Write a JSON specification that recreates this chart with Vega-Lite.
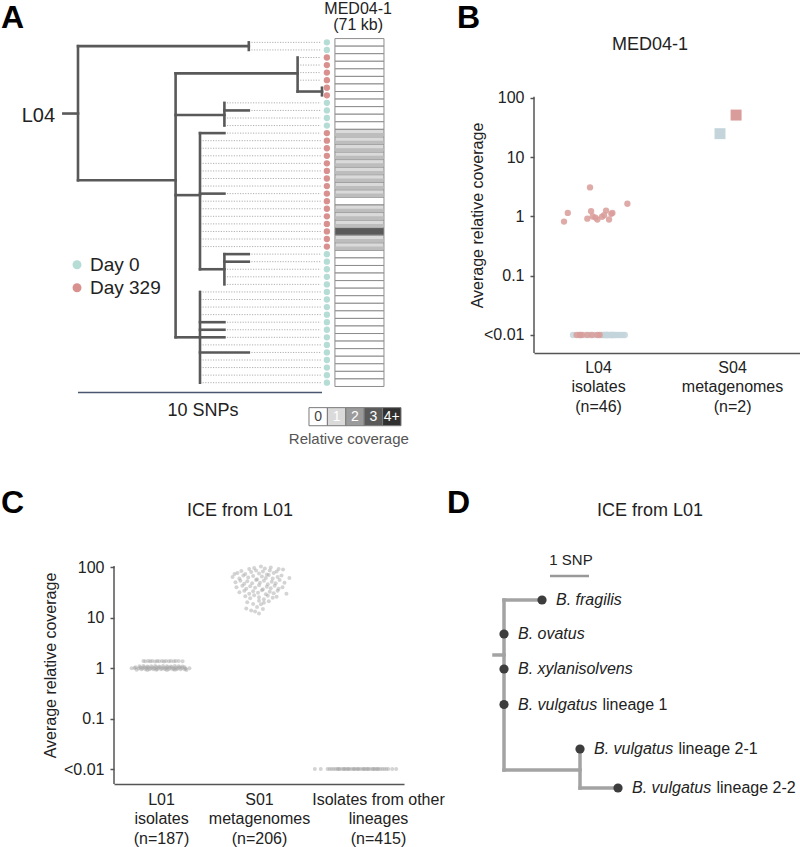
{
"$schema": "https://vega.github.io/schema/vega-lite/v6.json",
"padding": 0,
"background": "white",
"config": {
  "font": "Liberation Sans",
  "view": {"stroke": null},
  "axis": {"domainColor": "#555555", "domainWidth": 1.5, "tickColor": "#555555", "tickWidth": 1.5, "tickSize": 4, "labelColor": "#222222", "titleColor": "#222222", "labelFontSize": 16, "titleFontSize": 16, "titleFontWeight": "normal", "grid": false, "labelFont": "Liberation Sans", "titleFont": "Liberation Sans", "labelFlush": false, "labelOverlap": false},
  "text": {"font": "Liberation Sans", "color": "#222222"}
},
"datasets": {
  "aTree": [
    {"x":-0.6,"x2":0,"y":9.41,"y2":9.41},
    {"x":0,"x2":0,"y":0.5,"y2":18.24},
    {"x":0,"x2":7,"y":0.5,"y2":0.5},
    {"x":7,"x2":7,"y":0,"y2":1},
    {"x":0,"x2":4,"y":18.24,"y2":18.24},
    {"x":4,"x2":4,"y":4.1,"y2":39},
    {"x":4,"x2":9,"y":4.1,"y2":4.1},
    {"x":9,"x2":9,"y":2,"y2":6.5},
    {"x":9,"x2":10,"y":6.5,"y2":6.5},
    {"x":10,"x2":10,"y":6,"y2":7},
    {"x":4,"x2":6,"y":9.6,"y2":9.6},
    {"x":6,"x2":6,"y":8,"y2":11},
    {"x":6,"x2":7,"y":9,"y2":9},
    {"x":4,"x2":5,"y":20.2,"y2":20.2},
    {"x":5,"x2":5,"y":12,"y2":30},
    {"x":5,"x2":6,"y":12,"y2":12},
    {"x":5,"x2":6,"y":20,"y2":20},
    {"x":5,"x2":6,"y":30,"y2":30},
    {"x":6,"x2":6,"y":28,"y2":32},
    {"x":6,"x2":7,"y":28,"y2":28},
    {"x":6,"x2":7,"y":29,"y2":29},
    {"x":4,"x2":5,"y":39,"y2":39},
    {"x":5,"x2":5,"y":33,"y2":45},
    {"x":5,"x2":6,"y":37,"y2":37},
    {"x":5,"x2":6,"y":38,"y2":38},
    {"x":5,"x2":6,"y":39,"y2":39},
    {"x":5,"x2":7,"y":41,"y2":41}
  ],
  "aTips": [
    {"y":0,"x":7,"d":"0","c":0,"y0":-0.5,"y1":0.5},
    {"y":1,"x":7,"d":"0","c":0,"y0":0.5,"y1":1.5},
    {"y":2,"x":9,"d":"329","c":0,"y0":1.5,"y1":2.5},
    {"y":3,"x":9,"d":"329","c":0,"y0":2.5,"y1":3.5},
    {"y":4,"x":9,"d":"329","c":0,"y0":3.5,"y1":4.5},
    {"y":5,"x":9,"d":"329","c":0,"y0":4.5,"y1":5.5},
    {"y":6,"x":10,"d":"329","c":0,"y0":5.5,"y1":6.5},
    {"y":7,"x":10,"d":"329","c":0,"y0":6.5,"y1":7.5},
    {"y":8,"x":6,"d":"0","c":0,"y0":7.5,"y1":8.5},
    {"y":9,"x":7,"d":"0","c":0,"y0":8.5,"y1":9.5},
    {"y":10,"x":6,"d":"0","c":0,"y0":9.5,"y1":10.5},
    {"y":11,"x":6,"d":"0","c":0,"y0":10.5,"y1":11.5},
    {"y":12,"x":6,"d":"329","c":1,"y0":11.5,"y1":12.5},
    {"y":13,"x":5,"d":"329","c":1,"y0":12.5,"y1":13.5},
    {"y":14,"x":5,"d":"329","c":1,"y0":13.5,"y1":14.5},
    {"y":15,"x":5,"d":"329","c":1,"y0":14.5,"y1":15.5},
    {"y":16,"x":5,"d":"329","c":1,"y0":15.5,"y1":16.5},
    {"y":17,"x":5,"d":"329","c":1,"y0":16.5,"y1":17.5},
    {"y":18,"x":5,"d":"329","c":1,"y0":17.5,"y1":18.5},
    {"y":19,"x":5,"d":"329","c":1,"y0":18.5,"y1":19.5},
    {"y":20,"x":6,"d":"329","c":1,"y0":19.5,"y1":20.5},
    {"y":21,"x":5,"d":"329","c":0,"y0":20.5,"y1":21.5},
    {"y":22,"x":5,"d":"329","c":1,"y0":21.5,"y1":22.5},
    {"y":23,"x":5,"d":"329","c":1,"y0":22.5,"y1":23.5},
    {"y":24,"x":5,"d":"329","c":1,"y0":23.5,"y1":24.5},
    {"y":25,"x":5,"d":"329","c":3,"y0":24.5,"y1":25.5},
    {"y":26,"x":5,"d":"329","c":1,"y0":25.5,"y1":26.5},
    {"y":27,"x":5,"d":"329","c":1,"y0":26.5,"y1":27.5},
    {"y":28,"x":7,"d":"0","c":0,"y0":27.5,"y1":28.5},
    {"y":29,"x":7,"d":"0","c":0,"y0":28.5,"y1":29.5},
    {"y":30,"x":6,"d":"0","c":0,"y0":29.5,"y1":30.5},
    {"y":31,"x":6,"d":"0","c":0,"y0":30.5,"y1":31.5},
    {"y":32,"x":6,"d":"0","c":0,"y0":31.5,"y1":32.5},
    {"y":33,"x":5,"d":"0","c":0,"y0":32.5,"y1":33.5},
    {"y":34,"x":5,"d":"0","c":0,"y0":33.5,"y1":34.5},
    {"y":35,"x":5,"d":"0","c":0,"y0":34.5,"y1":35.5},
    {"y":36,"x":5,"d":"0","c":0,"y0":35.5,"y1":36.5},
    {"y":37,"x":6,"d":"0","c":0,"y0":36.5,"y1":37.5},
    {"y":38,"x":6,"d":"0","c":0,"y0":37.5,"y1":38.5},
    {"y":39,"x":6,"d":"0","c":0,"y0":38.5,"y1":39.5},
    {"y":40,"x":5,"d":"0","c":0,"y0":39.5,"y1":40.5},
    {"y":41,"x":7,"d":"0","c":0,"y0":40.5,"y1":41.5},
    {"y":42,"x":5,"d":"0","c":0,"y0":41.5,"y1":42.5},
    {"y":43,"x":5,"d":"0","c":0,"y0":42.5,"y1":43.5},
    {"y":44,"x":5,"d":"0","c":0,"y0":43.5,"y1":44.5},
    {"y":45,"x":5,"d":"0","c":0,"y0":44.5,"y1":45.5}
  ],
  "bPts": [
    {"x":-0.187,"v":0.01,"d":"0"},{"x":-0.14,"v":0.01,"d":"0"},{"x":-0.1,"v":0.01,"d":"0"},{"x":-0.06,"v":0.01,"d":"0"},
    {"x":-0.025,"v":0.01,"d":"0"},{"x":0.025,"v":0.01,"d":"0"},{"x":0.035,"v":0.01,"d":"0"},{"x":0.045,"v":0.01,"d":"0"},
    {"x":0.05,"v":0.01,"d":"0"},{"x":0.06,"v":0.01,"d":"0"},{"x":0.065,"v":0.01,"d":"0"},{"x":0.07,"v":0.01,"d":"0"},
    {"x":0.08,"v":0.01,"d":"0"},{"x":0.09,"v":0.01,"d":"0"},{"x":0.1,"v":0.01,"d":"0"},{"x":0.105,"v":0.01,"d":"0"},
    {"x":0.11,"v":0.01,"d":"0"},{"x":0.12,"v":0.01,"d":"0"},{"x":0.13,"v":0.01,"d":"0"},{"x":0.14,"v":0.01,"d":"0"},
    {"x":0.155,"v":0.01,"d":"0"},{"x":0.17,"v":0.01,"d":"0"},{"x":0.185,"v":0.01,"d":"0"},{"x":0.2,"v":0.01,"d":"0"},
    {"x":-0.16,"v":0.01,"d":"329"},{"x":-0.12,"v":0.01,"d":"329"},{"x":-0.08,"v":0.01,"d":"329"},{"x":-0.045,"v":0.01,"d":"329"},
    {"x":-0.005,"v":0.01,"d":"329"},{"x":0.012,"v":0.01,"d":"329"},{"x":-0.135,"v":0.01,"d":"329"},
    {"x":-0.254,"v":0.82,"d":"329"},{"x":-0.226,"v":1.15,"d":"329"},{"x":-0.08,"v":0.92,"d":"329"},{"x":-0.06,"v":3.1,"d":"329"},
    {"x":-0.052,"v":1.23,"d":"329"},{"x":-0.04,"v":1.0,"d":"329"},{"x":-0.005,"v":0.89,"d":"329"},{"x":0.03,"v":0.99,"d":"329"},
    {"x":0.06,"v":1.26,"d":"329"},{"x":0.082,"v":0.89,"d":"329"},{"x":0.099,"v":1.11,"d":"329"},{"x":0.107,"v":1.15,"d":"329"},
    {"x":0.219,"v":1.64,"d":"329"},{"x":-0.02,"v":0.96,"d":"329"},{"x":0.045,"v":1.05,"d":"329"}
  ],
  "cPts": [
    {"x":-0.18,"v":1.37},{"x":-0.16,"v":1.36},{"x":-0.13,"v":1.38},{"x":-0.11,"v":1.36},{"x":-0.09,"v":1.37},{"x":-0.06,"v":1.35},
    {"x":-0.04,"v":1.38},{"x":-0.02,"v":1.36},{"x":0.01,"v":1.37},{"x":0.03,"v":1.35},{"x":0.05,"v":1.38},{"x":0.08,"v":1.36},
    {"x":0.1,"v":1.37},{"x":0.13,"v":1.36},{"x":0.15,"v":1.38},{"x":0.18,"v":1.37},{"x":0.22,"v":1.36},
    {"x":-0.22,"v":1.08},{"x":-0.18,"v":1.09},{"x":-0.14,"v":1.07},{"x":-0.1,"v":1.08},{"x":-0.06,"v":1.1},{"x":-0.02,"v":1.07},
    {"x":0.02,"v":1.09},{"x":0.06,"v":1.08},{"x":0.1,"v":1.07},{"x":0.14,"v":1.09},{"x":0.18,"v":1.08},{"x":0.22,"v":1.07},
    {"x":-0.26,"v":1.03},{"x":-0.21,"v":1.02},{"x":-0.17,"v":1.04},{"x":-0.13,"v":1.03},{"x":-0.09,"v":1.02},{"x":-0.05,"v":1.04},
    {"x":-0.01,"v":1.03},{"x":0.03,"v":1.02},{"x":0.07,"v":1.04},{"x":0.11,"v":1.03},{"x":0.15,"v":1.02},{"x":0.19,"v":1.04},{"x":0.24,"v":1.03},
    {"x":-0.3,"v":0.99},{"x":-0.27,"v":1.0},{"x":-0.23,"v":0.98},{"x":-0.19,"v":0.99},{"x":-0.15,"v":1.0},{"x":-0.11,"v":0.98},
    {"x":-0.07,"v":0.99},{"x":-0.03,"v":1.0},{"x":0.01,"v":0.98},{"x":0.05,"v":0.99},{"x":0.09,"v":1.0},{"x":0.13,"v":0.98},
    {"x":0.17,"v":0.99},{"x":0.21,"v":1.0},{"x":0.25,"v":0.98},{"x":0.29,"v":0.99},
    {"x":-0.2,"v":0.95},{"x":-0.16,"v":0.94},{"x":-0.12,"v":0.95},{"x":-0.08,"v":0.94},{"x":-0.04,"v":0.95},{"x":0.0,"v":0.94},
    {"x":0.04,"v":0.95},{"x":0.08,"v":0.94},{"x":0.12,"v":0.95},{"x":0.16,"v":0.94},{"x":0.2,"v":0.95},{"x":0.24,"v":0.94},
    {"x":-0.25,"v":0.92},{"x":-0.14,"v":0.91},{"x":-0.05,"v":0.92},{"x":0.06,"v":0.91},{"x":0.14,"v":0.92},{"x":0.26,"v":0.91},
    {"x":0.95,"v":95.5},{"x":1.02,"v":102.3},{"x":1.06,"v":93.3},{"x":1.12,"v":97.7},{"x":1.2,"v":91.2},{"x":0.9,"v":91.2},{"x":1.245,"v":89.1},
    {"x":0.78,"v":75.9},{"x":0.82,"v":83.2},{"x":0.86,"v":72.4},{"x":0.92,"v":79.4},{"x":0.97,"v":85.1},{"x":1.0,"v":74.1},
    {"x":1.04,"v":81.3},{"x":1.08,"v":70.8},{"x":1.11,"v":85.1},{"x":1.15,"v":75.9},{"x":1.18,"v":81.3},{"x":0.75,"v":72.4},
    {"x":0.73,"v":63.1},{"x":0.8,"v":58.9},{"x":0.84,"v":67.6},{"x":0.89,"v":61.7},{"x":0.94,"v":66.1},{"x":0.98,"v":57.5},
    {"x":1.03,"v":64.6},{"x":1.07,"v":60.3},{"x":1.1,"v":69.2},{"x":1.14,"v":58.9},{"x":1.19,"v":63.1},{"x":1.23,"v":67.6},{"x":1.31,"v":60.3},
    {"x":0.76,"v":50.1},{"x":0.81,"v":53.7},{"x":0.85,"v":46.8},{"x":0.88,"v":52.5},{"x":0.93,"v":47.9},{"x":0.97,"v":55.0},
    {"x":1.01,"v":49.0},{"x":1.05,"v":53.7},{"x":1.09,"v":45.7},{"x":1.13,"v":51.3},{"x":1.17,"v":47.9},{"x":1.21,"v":55.0},{"x":1.26,"v":49.0},
    {"x":0.77,"v":39.8},{"x":0.83,"v":42.7},{"x":0.87,"v":37.2},{"x":0.91,"v":41.7},{"x":0.96,"v":38.9},{"x":1.0,"v":43.7},
    {"x":1.04,"v":36.3},{"x":1.08,"v":40.7},{"x":1.12,"v":38.0},{"x":1.16,"v":42.7},{"x":1.2,"v":37.2},{"x":1.24,"v":39.8},
    {"x":0.8,"v":31.6},{"x":0.85,"v":33.9},{"x":0.9,"v":29.5},{"x":0.94,"v":33.1},{"x":0.99,"v":30.9},{"x":1.03,"v":34.7},
    {"x":1.07,"v":28.8},{"x":1.11,"v":32.4},{"x":1.15,"v":30.2},{"x":1.19,"v":33.9},{"x":1.28,"v":29.5},
    {"x":0.86,"v":26.3},{"x":0.91,"v":24.0},{"x":0.95,"v":27.5},{"x":1.0,"v":25.1},{"x":1.05,"v":22.9},{"x":1.09,"v":26.9},{"x":1.14,"v":24.5},{"x":1.18,"v":25.7},
    {"x":0.88,"v":20.0},{"x":0.94,"v":18.6},{"x":1.0,"v":21.4},{"x":1.05,"v":19.5},{"x":1.1,"v":20.9},{"x":1.02,"v":18.2},
    {"x":0.87,"v":15.1},{"x":0.92,"v":13.8},{"x":0.98,"v":16.2},{"x":1.04,"v":14.8},{"x":1.0,"v":12.0},{"x":0.96,"v":13.2},
    {"x":1.57,"v":0.01},{"x":1.63,"v":0.01},{"x":1.7,"v":0.01},{"x":1.72,"v":0.01},{"x":1.74,"v":0.01},{"x":1.76,"v":0.01},
    {"x":1.78,"v":0.01},{"x":1.8,"v":0.01},{"x":1.82,"v":0.01},{"x":1.84,"v":0.01},{"x":1.86,"v":0.01},{"x":1.88,"v":0.01},
    {"x":1.9,"v":0.01},{"x":1.92,"v":0.01},{"x":1.94,"v":0.01},{"x":1.96,"v":0.01},{"x":1.98,"v":0.01},{"x":2.0,"v":0.01},
    {"x":2.02,"v":0.01},{"x":2.04,"v":0.01},{"x":2.06,"v":0.01},{"x":2.08,"v":0.01},{"x":2.1,"v":0.01},{"x":2.12,"v":0.01},
    {"x":2.14,"v":0.01},{"x":2.16,"v":0.01},{"x":2.18,"v":0.01},{"x":2.2,"v":0.01},{"x":2.22,"v":0.01},{"x":2.24,"v":0.01},
    {"x":2.26,"v":0.01},{"x":2.28,"v":0.01},{"x":2.3,"v":0.01},{"x":2.32,"v":0.01},{"x":2.36,"v":0.01},{"x":2.4,"v":0.01},
    {"x":1.81,"v":0.01},{"x":1.87,"v":0.01},{"x":1.91,"v":0.01},{"x":1.97,"v":0.01},{"x":2.01,"v":0.01},{"x":2.07,"v":0.01},
    {"x":2.11,"v":0.01},{"x":2.17,"v":0.01},{"x":2.21,"v":0.01}
  ],
  "dTree": [
    {"x":0,"x2":0,"y":0,"y2":4.857},
    {"x":0,"x2":1,"y":0,"y2":0},
    {"x":-0.263,"x2":0,"y":1.571,"y2":1.571},
    {"x":0,"x2":2,"y":4.857,"y2":4.857},
    {"x":2,"x2":2,"y":4.257,"y2":5.371},
    {"x":2,"x2":3,"y":5.371,"y2":5.371}
  ],
  "dTips": [
    {"x":1,"y":0,"it":"B. fragilis","n":""},
    {"x":0,"y":0.971,"it":"B. ovatus","n":""},
    {"x":0,"y":1.971,"it":"B. xylanisolvens","n":""},
    {"x":0,"y":2.986,"it":"B. vulgatus","n":"lineage 1"},
    {"x":2,"y":4.257,"it":"B. vulgatus","n":"lineage 2-1"},
    {"x":3,"y":5.371,"it":"B. vulgatus","n":"lineage 2-2"}
  ]
},
"spacing": 0,
"vconcat": [
  {
    "bounds": "flush",
    "spacing": 114,
    "hconcat": [
      {
        "width": 420,
        "height": 450,
        "encoding": {
          "x": {"field": "x", "type": "quantitative", "scale": {"domain": [-3.1967, 14.0164], "nice": false, "zero": false}, "axis": null},
          "y": {"field": "y", "type": "quantitative", "scale": {"domain": [-5.6026, 53.9], "nice": false, "zero": false, "reverse": true}, "axis": null}
        },
        "layer": [
          {
            "data": {"name": "aTips"},
            "mark": {"type": "rect", "stroke": "#8c8c8c", "strokeWidth": 1},
            "encoding": {
              "x": {"datum": 10.53, "type": "quantitative", "scale": {"domain": [-3.1967, 14.0164], "nice": false, "zero": false}, "axis": null},
              "x2": {"datum": 12.54},
              "y": {"field": "y0", "type": "quantitative", "scale": {"domain": [-5.6026, 53.9], "nice": false, "zero": false, "reverse": true}, "axis": null},
              "y2": {"field": "y1"},
              "fill": {"field": "c", "type": "ordinal", "scale": {"domain": [0, 1, 2, 3, 4], "range": ["#ffffff", "#dadada", "#9b9b9b", "#5a5a5a", "#303030"]}, "legend": null}
            }
          },
          {
            "data": {"name": "aTips"},
            "transform": [{"filter": "datum.c == 1"}],
            "mark": {"type": "rect", "color": "#bdbdbd"},
            "encoding": {
              "x": {"datum": 10.55, "type": "quantitative", "scale": {"domain": [-3.1967, 14.0164], "nice": false, "zero": false}, "axis": null},
              "x2": {"datum": 12.52},
              "y2": {"field": "y1"}
            }
          },
          {
            "data": {"name": "aTips"},
            "mark": {"type": "rule", "color": "#b0b0b0", "strokeWidth": 1, "strokeDash": [1.2, 1.4]},
            "encoding": {"x2": {"datum": 9.95}}
          },
          {
            "data": {"name": "aTree"},
            "mark": {"type": "rule", "color": "#595959", "strokeWidth": 2.6, "strokeCap": "square"},
            "encoding": {"x2": {"field": "x2"}, "y2": {"field": "y2"}}
          },
          {
            "data": {"name": "aTips"},
            "transform": [{"filter": "datum.d == '0'"}],
            "mark": {"type": "circle", "size": 40, "color": "#b5dcd5", "opacity": 1},
            "encoding": {"x": {"datum": 10.2, "type": "quantitative", "scale": {"domain": [-3.1967, 14.0164], "nice": false, "zero": false}, "axis": null}}
          },
          {
            "data": {"name": "aTips"},
            "transform": [{"filter": "datum.d == '329'"}],
            "mark": {"type": "circle", "size": 40, "color": "#d8918e", "opacity": 1},
            "encoding": {"x": {"datum": 10.2, "type": "quantitative", "scale": {"domain": [-3.1967, 14.0164], "nice": false, "zero": false}, "axis": null}}
          },
          {
            "data": {"values": [{"x": -0.04, "y": 29.4}]},
            "mark": {"type": "circle", "size": 80, "color": "#b5dcd5", "opacity": 1}
          },
          {
            "data": {"values": [{"x": -0.04, "y": 32.45}]},
            "mark": {"type": "circle", "size": 80, "color": "#d8918e", "opacity": 1}
          },
          {
            "data": {"values": [{"x": 0.49, "y": 29.4, "t": "Day 0"}, {"x": 0.49, "y": 32.45, "t": "Day 329"}]},
            "mark": {"type": "text", "fontSize": 19, "align": "left", "baseline": "middle", "color": "#222222"},
            "encoding": {"text": {"field": "t"}}
          },
          {
            "data": {"values": [{"x": -3.156, "y": -1.95, "t": "A"}]},
            "mark": {"type": "text", "fontSize": 32, "fontWeight": "bold", "align": "left", "baseline": "alphabetic", "color": "#000000"},
            "encoding": {"text": {"field": "t"}}
          },
          {
            "data": {"values": [{"x": 11.48, "y": -4.35, "t": "MED04-1"}, {"x": 11.48, "y": -2.25, "t": "(71 kb)"}]},
            "mark": {"type": "text", "fontSize": 16, "align": "center", "baseline": "middle", "color": "#222222"},
            "encoding": {"text": {"field": "t"}}
          },
          {
            "data": {"values": [{"x": -0.94, "y": 9.76, "t": "L04"}]},
            "mark": {"type": "text", "fontSize": 20, "align": "right", "baseline": "middle", "color": "#222222"},
            "encoding": {"text": {"field": "t"}}
          },
          {
            "data": {"values": [{"x": 0, "x2": 10, "y": 46.3, "y2": 46.3}]},
            "mark": {"type": "rule", "color": "#4a5670", "strokeWidth": 1.5},
            "encoding": {"x2": {"field": "x2"}, "y2": {"field": "y2"}}
          },
          {
            "data": {"values": [{"x": 5.12, "y": 48.7, "t": "10 SNPs"}]},
            "mark": {"type": "text", "fontSize": 18, "align": "center", "baseline": "middle", "color": "#222222"},
            "encoding": {"text": {"field": "t"}}
          },
          {
            "data": {"values": [
              {"x": 9.467, "x2": 10.221, "y": 48.3, "y2": 50.69, "c": 0},
              {"x": 10.221, "x2": 10.975, "y": 48.3, "y2": 50.69, "c": 1},
              {"x": 10.975, "x2": 11.73, "y": 48.3, "y2": 50.69, "c": 2},
              {"x": 11.73, "x2": 12.484, "y": 48.3, "y2": 50.69, "c": 3},
              {"x": 12.484, "x2": 13.238, "y": 48.3, "y2": 50.69, "c": 4}
            ]},
            "mark": {"type": "rect", "stroke": "#7a7a7a", "strokeWidth": 1},
            "encoding": {
              "x2": {"field": "x2"}, "y2": {"field": "y2"},
              "fill": {"field": "c", "type": "ordinal", "scale": {"domain": [0, 1, 2, 3, 4], "range": ["#ffffff", "#dadada", "#9b9b9b", "#5a5a5a", "#303030"]}, "legend": null}
            }
          },
          {
            "data": {"values": [
              {"x": 9.844, "y": 49.5, "t": "0", "c": 0},
              {"x": 10.598, "y": 49.5, "t": "1", "c": 1},
              {"x": 11.352, "y": 49.5, "t": "2", "c": 2},
              {"x": 12.107, "y": 49.5, "t": "3", "c": 3},
              {"x": 12.861, "y": 49.5, "t": "4+", "c": 4}
            ]},
            "mark": {"type": "text", "fontSize": 14, "align": "center", "baseline": "middle"},
            "encoding": {"text": {"field": "t"}, "color": {"condition": {"test": "datum.c == 0", "value": "#444444"}, "value": "#ffffff"}}
          },
          {
            "data": {"values": [{"x": 11.1, "y": 52.4, "t": "Relative coverage"}]},
            "mark": {"type": "text", "fontSize": 15, "align": "center", "baseline": "middle", "color": "#555555"},
            "encoding": {"text": {"field": "t"}}
          }
        ]
      },
      {
        "width": 266,
        "height": 353,
        "encoding": {
          "x": {"field": "x", "type": "quantitative", "scale": {"domain": [-0.478, 1.507], "nice": false, "zero": false},
                "axis": {"values": [0, 1], "ticks": false, "labelPadding": 6, "labelLineHeight": 19.5, "title": null,
                         "labelExpr": "datum.value < 0.5 ? ['L04', 'isolates', '(n=46)'] : ['S04', 'metagenomes', '(n=2)']"}},
          "y": {"field": "v", "type": "quantitative", "scale": {"type": "log", "domain": [0.004966, 4508], "nice": false},
                "axis": {"values": [0.01, 0.1, 1, 10, 100], "domain": false, "labelPadding": 6, "title": "Average relative coverage", "titlePadding": -2, "titleY": 215,
                         "labelExpr": "datum.value < 0.05 ? '<0.01' : datum.value < 0.5 ? '0.1' : format(datum.value, 'd')"}}
        },
        "layer": [
          {
            "data": {"values": [{"x": -0.478, "v": 0.004966, "v2": 105}]},
            "mark": {"type": "rule", "color": "#555555", "strokeWidth": 1.5},
            "encoding": {"y2": {"field": "v2"}}
          },
          {
            "data": {"name": "bPts"},
            "transform": [{"filter": "datum.d == '0'"}],
            "mark": {"type": "circle", "size": 40, "color": "#c3d5da", "opacity": 0.85}
          },
          {
            "data": {"name": "bPts"},
            "transform": [{"filter": "datum.d == '329'"}],
            "mark": {"type": "circle", "size": 40, "color": "#d99c9a", "opacity": 0.85}
          },
          {
            "data": {"values": [{"x": 0.91, "v": 25}]},
            "mark": {"type": "square", "size": 120, "color": "#c3d5da", "opacity": 1}
          },
          {
            "data": {"values": [{"x": 1.03, "v": 51.5}]},
            "mark": {"type": "square", "size": 120, "color": "#d99c9a", "opacity": 1}
          },
          {
            "data": {"values": [{"x": -1.052, "v": 1500, "t": "B"}]},
            "mark": {"type": "text", "fontSize": 32, "fontWeight": "bold", "align": "left", "baseline": "alphabetic", "color": "#000000"},
            "encoding": {"text": {"field": "t"}}
          },
          {
            "data": {"values": [{"x": 0.388, "v": 783, "t": "MED04-1"}]},
            "mark": {"type": "text", "fontSize": 18, "align": "center", "baseline": "middle", "color": "#222222"},
            "encoding": {"text": {"field": "t"}}
          }
        ]
      }
    ]
  },
  {
    "bounds": "flush",
    "spacing": 16,
    "hconcat": [
      {
        "width": 98,
        "height": 10,
        "data": {"values": []},
        "mark": "point"
      },
      {
        "width": 290,
        "height": 334,
        "encoding": {
          "x": {"field": "x", "type": "quantitative", "scale": {"domain": [-0.48, 2.48], "nice": false, "zero": false},
                "axis": {"values": [0, 1, 2], "ticks": false, "labelPadding": 7, "labelLineHeight": 19.5, "title": null,
                         "labelOffset": {"condition": {"test": "datum.value > 1.5", "value": 21}, "value": 0},
                         "labelExpr": "datum.value < 0.5 ? ['L01', 'isolates', '(n=187)'] : datum.value < 1.5 ? ['S01', 'metagenomes', '(n=206)'] : ['Isolates from other', 'lineages', '(n=415)']"}},
          "y": {"field": "v", "type": "quantitative", "scale": {"type": "log", "domain": [0.005047, 20750], "nice": false},
                "axis": {"values": [0.01, 0.1, 1, 10, 100], "domain": false, "labelPadding": 6, "title": "Average relative coverage", "titlePadding": 5, "titleY": 215,
                         "labelExpr": "datum.value < 0.05 ? '<0.01' : datum.value < 0.5 ? '0.1' : format(datum.value, 'd')"}}
        },
        "layer": [
          {
            "data": {"values": [{"x": -0.48, "v": 0.005047, "v2": 105}]},
            "mark": {"type": "rule", "color": "#555555", "strokeWidth": 1.5},
            "encoding": {"y2": {"field": "v2"}}
          },
          {
            "data": {"name": "cPts"},
            "mark": {"type": "circle", "size": 16, "color": "#a0a0a0", "opacity": 0.45}
          },
          {
            "data": {"values": [{"x": -1.633, "v": 1172, "t": "C"}]},
            "mark": {"type": "text", "fontSize": 32, "fontWeight": "bold", "align": "left", "baseline": "alphabetic", "color": "#000000"},
            "encoding": {"text": {"field": "t"}}
          },
          {
            "data": {"values": [{"x": 0.806, "v": 1285, "t": "ICE from L01"}]},
            "mark": {"type": "text", "fontSize": 18, "align": "center", "baseline": "middle", "color": "#222222"},
            "encoding": {"text": {"field": "t"}}
          }
        ]
      },
      {
        "width": 380,
        "height": 397,
        "encoding": {
          "x": {"field": "x", "type": "quantitative", "scale": {"domain": [-2.2105, 7.789], "nice": false, "zero": false}, "axis": null},
          "y": {"field": "y", "type": "quantitative", "scale": {"domain": [-4.2857, 7.057], "nice": false, "zero": false, "reverse": true}, "axis": null}
        },
        "layer": [
          {
            "data": {"name": "dTree"},
            "mark": {"type": "rule", "color": "#a3a3a3", "strokeWidth": 3.5, "strokeCap": "square"},
            "encoding": {"x2": {"field": "x2"}, "y2": {"field": "y2"}}
          },
          {
            "data": {"values": [{"x": 1.21, "x2": 2.237, "y": -0.686, "y2": -0.686}]},
            "mark": {"type": "rule", "color": "#999999", "strokeWidth": 2.5},
            "encoding": {"x2": {"field": "x2"}, "y2": {"field": "y2"}}
          },
          {
            "data": {"name": "dTips"},
            "mark": {"type": "circle", "size": 85, "color": "#3d3d3d", "opacity": 1}
          },
          {
            "data": {"name": "dTips"},
            "mark": {"type": "text", "fontSize": 16, "fontStyle": "italic", "align": "left", "baseline": "middle", "dx": 14, "color": "#222222"},
            "encoding": {"text": {"field": "it"}}
          },
          {
            "data": {"name": "dTips"},
            "transform": [{"filter": "datum.n != ''"}],
            "mark": {"type": "text", "fontSize": 16, "align": "left", "baseline": "middle", "dx": 98.5, "color": "#222222"},
            "encoding": {"text": {"field": "n"}}
          },
          {
            "data": {"values": [{"x": 1.763, "y": -1.143, "t": "1 SNP"}]},
            "mark": {"type": "text", "fontSize": 15, "align": "center", "baseline": "middle", "color": "#222222"},
            "encoding": {"text": {"field": "t"}}
          },
          {
            "data": {"values": [{"x": -1.5, "y": -2.486, "t": "D"}]},
            "mark": {"type": "text", "fontSize": 32, "fontWeight": "bold", "align": "left", "baseline": "alphabetic", "color": "#000000"},
            "encoding": {"text": {"field": "t"}}
          },
          {
            "data": {"values": [{"x": 3.842, "y": -2.543, "t": "ICE from L01"}]},
            "mark": {"type": "text", "fontSize": 18, "align": "center", "baseline": "middle", "color": "#222222"},
            "encoding": {"text": {"field": "t"}}
          }
        ]
      }
    ]
  }
]
}
